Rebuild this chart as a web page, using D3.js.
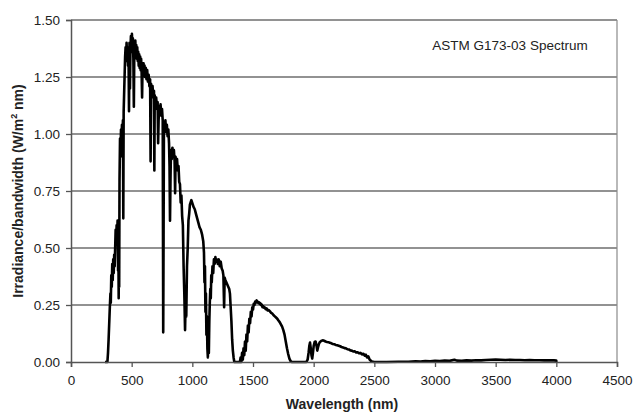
<!DOCTYPE html>
<html><head><meta charset="utf-8">
<script src="https://cdn.jsdelivr.net/npm/d3@7"></script>
<style>
html,body{margin:0;padding:0;background:#fff;}
svg{display:block;font-family:"Liberation Sans",Arial,sans-serif;}
</style></head>
<body><svg id="c" width="634" height="415"></svg>
<script>
const xTicks = [0,500,1000,1500,2000,2500,3000,3500,4000,4500];
const yTicks = [0,0.25,0.5,0.75,1.0,1.25,1.5];
const chartLabel = "ASTM G173-03 Spectrum";
const xTitle = "Wavelength (nm)";

const wavelengths = [280,300,305,310,315,320,325,328,332,336,340,344,348,352,356,360,364,368,372,376,380,384,388,390,393,396,397,400,404,408,412,416,420,424,428,431,434,438,442,446,450,454,458,462,466,470,474,478,482,486,490,494,498,502,506,510,514,518,522,526,530,534,538,542,546,550,554,558,562,566,570,574,578,582,586,590,594,598,602,606,610,616,622,628,634,640,646,652,656,660,666,672,678,684,687,690,696,702,708,714,718,722,726,732,738,744,750,756,760,763,766,772,778,784,790,796,802,808,812,816,820,824,830,836,842,848,854,858,862,868,874,880,886,892,898,904,910,916,922,928,934,940,946,950,956,962,968,974,980,986,992,998,1004,1010,1020,1030,1040,1050,1060,1070,1080,1090,1096,1100,1104,1108,1112,1116,1120,1124,1128,1132,1136,1140,1144,1148,1152,1156,1160,1166,1172,1178,1184,1190,1196,1202,1210,1218,1226,1234,1242,1250,1256,1262,1266,1272,1280,1288,1296,1304,1310,1316,1322,1328,1334,1340,1346,1392,1398,1404,1410,1416,1422,1428,1434,1440,1446,1452,1458,1464,1470,1476,1482,1488,1494,1500,1506,1512,1518,1524,1530,1536,1542,1548,1554,1560,1566,1572,1578,1584,1590,1596,1604,1612,1620,1630,1640,1650,1660,1670,1680,1690,1700,1710,1720,1730,1740,1750,1760,1770,1780,1790,1800,1810,1820,1940,1950,1958,1964,1970,1976,1982,1988,1994,2000,2008,2016,2024,2030,2036,2044,2052,2062,2074,2086,2098,2110,2122,2134,2146,2158,2170,2182,2194,2206,2218,2230,2242,2254,2266,2278,2290,2302,2314,2326,2338,2350,2362,2374,2386,2398,2410,2420,2430,2440,2450,2460,2470,2480,2500,2600,2700,2780,2840,2880,2920,2960,3000,3040,3080,3120,3160,3180,3220,3260,3300,3340,3380,3420,3460,3500,3540,3580,3620,3660,3700,3740,3780,3820,3860,3900,3940,3980,4000,4000];

const irradiance = [0,0,0.04,0.1,0.17,0.24,0.3,0.26,0.38,0.33,0.43,0.36,0.45,0.39,0.47,0.42,0.5,0.58,0.52,0.6,0.55,0.62,0.4,0.58,0.28,0.6,0.33,0.8,0.98,0.9,1.02,0.96,1.04,0.98,1.06,0.63,1.1,1.18,1.26,1.34,1.38,1.32,1.4,1.34,1.38,1.3,1.37,1.1,1.4,1.2,1.38,1.43,1.36,1.44,1.38,1.42,1.33,1.12,1.38,1.34,1.41,1.35,1.39,1.33,1.38,1.32,1.36,1.3,1.35,1.29,1.34,1.28,1.33,1.27,1.16,1.31,1.26,1.31,1.27,1.3,1.25,1.29,1.24,1.28,1.23,1.26,1.21,1.24,0.88,1.22,1.18,1.21,1.16,1.19,0.84,1.17,1.13,1.16,1.11,1.14,0.96,1.06,1.12,1.09,1.13,1.08,1.11,1.06,0.13,0.55,1.05,1.02,1.06,1.01,1.04,0.99,1.02,0.96,0.86,0.62,0.8,0.93,0.89,0.94,0.9,0.93,0.88,0.74,0.9,0.86,0.89,0.84,0.86,0.79,0.78,0.7,0.73,0.64,0.6,0.42,0.3,0.14,0.3,0.2,0.42,0.5,0.62,0.65,0.69,0.7,0.71,0.7,0.69,0.68,0.67,0.65,0.63,0.61,0.59,0.58,0.56,0.53,0.48,0.35,0.42,0.22,0.3,0.12,0.2,0.06,0.02,0.1,0.04,0.18,0.26,0.32,0.28,0.38,0.35,0.42,0.39,0.45,0.43,0.46,0.44,0.45,0.43,0.45,0.42,0.44,0.41,0.4,0.38,0.24,0.37,0.36,0.35,0.34,0.33,0.32,0.3,0.24,0.18,0.1,0.05,0.02,0,0,0.02,0,0.04,0.01,0.06,0.03,0.09,0.05,0.12,0.09,0.16,0.13,0.19,0.17,0.22,0.2,0.24,0.23,0.255,0.25,0.265,0.26,0.27,0.265,0.26,0.263,0.255,0.258,0.25,0.252,0.24,0.245,0.238,0.24,0.232,0.235,0.226,0.228,0.222,0.215,0.212,0.205,0.2,0.195,0.19,0.182,0.175,0.165,0.155,0.14,0.12,0.09,0.06,0.035,0.015,0.004,0,0,0.01,0.04,0.07,0.085,0.06,0.03,0.015,0.04,0.07,0.088,0.09,0.07,0.05,0.065,0.08,0.088,0.092,0.095,0.093,0.09,0.088,0.087,0.084,0.082,0.079,0.078,0.075,0.073,0.071,0.069,0.066,0.064,0.061,0.06,0.056,0.055,0.051,0.05,0.046,0.047,0.042,0.043,0.038,0.04,0.033,0.036,0.028,0.032,0.02,0.025,0.012,0.006,0.002,0,0,0.001,0.001,0.003,0.002,0.004,0.003,0.005,0.004,0.006,0.005,0.01,0.006,0.005,0.007,0.006,0.008,0.007,0.009,0.01,0.011,0.01,0.009,0.01,0.009,0.009,0.008,0.009,0.008,0.008,0.007,0.007,0.007,0.006,0];

const W = 634, H = 415;
const m = {left:71, right:17, top:20, bottom:53};
const svg = d3.select("#c");
const x = d3.scaleLinear().domain([0,4500]).range([m.left, W - m.right]);
const y = d3.scaleLinear().domain([0,1.5]).range([H - m.bottom, m.top]);

// gridlines
svg.append("g").selectAll("line").data(yTicks.filter(d=>d>0)).join("line")
  .attr("x1", m.left).attr("x2", W - m.right)
  .attr("y1", d=>y(d)).attr("y2", d=>y(d))
  .attr("stroke", "#6e6e6e").attr("stroke-width", 1.5);
// right border
svg.append("line").attr("x1", W-m.right).attr("x2", W-m.right)
  .attr("y1", m.top).attr("y2", H-m.bottom)
  .attr("stroke", "#8a8a8a").attr("stroke-width", 1.2);

// data line
const pts = wavelengths.map((w,i)=>[w, irradiance[i]]);
svg.append("path").datum(pts)
  .attr("fill","none").attr("stroke","#000").attr("stroke-width",2.6)
  .attr("stroke-linejoin","round")
  .attr("d", d3.line().x(d=>x(d[0])).y(d=>y(d[1])));

// axes
const xAxis = svg.append("g").attr("transform", `translate(0,${H-m.bottom})`)
  .call(d3.axisBottom(x).tickValues(xTicks).tickFormat(d3.format("d")).tickSize(5).tickPadding(8));
const yAxis = svg.append("g").attr("transform", `translate(${m.left},0)`)
  .call(d3.axisLeft(y).tickValues(yTicks).tickFormat(d3.format(".2f")).tickSize(5).tickPadding(6));
[xAxis, yAxis].forEach(g=>{
  g.select(".domain").attr("stroke","#555").attr("stroke-width",1.5);
  g.selectAll(".tick line").attr("stroke","#555").attr("stroke-width",1.3);
  g.selectAll(".tick text").attr("fill","#222").style("font-size","13.5px")
   .style("font-family","'Liberation Sans',Arial,sans-serif");
});

// titles
svg.append("text").attr("x", 342).attr("y", 409)
  .attr("text-anchor","middle").attr("fill","#222")
  .style("font-size","14px").style("font-weight","bold").text(xTitle);

const yt = svg.append("text").attr("transform", `translate(23,${(m.top + H - m.bottom)/2}) rotate(-90)`)
  .attr("text-anchor","middle").attr("fill","#222")
  .style("font-size","14px").style("font-weight","bold");
yt.append("tspan").text("Irradiance/bandwidth (W/m");
yt.append("tspan").attr("dy","-6").style("font-size","9px").text("2");
yt.append("tspan").attr("dy","6").text(" nm)");

svg.append("text").attr("x", 510).attr("y", 50).attr("text-anchor","middle")
  .attr("fill","#222").style("font-size","13.5px").text(chartLabel);
</script></body></html>
